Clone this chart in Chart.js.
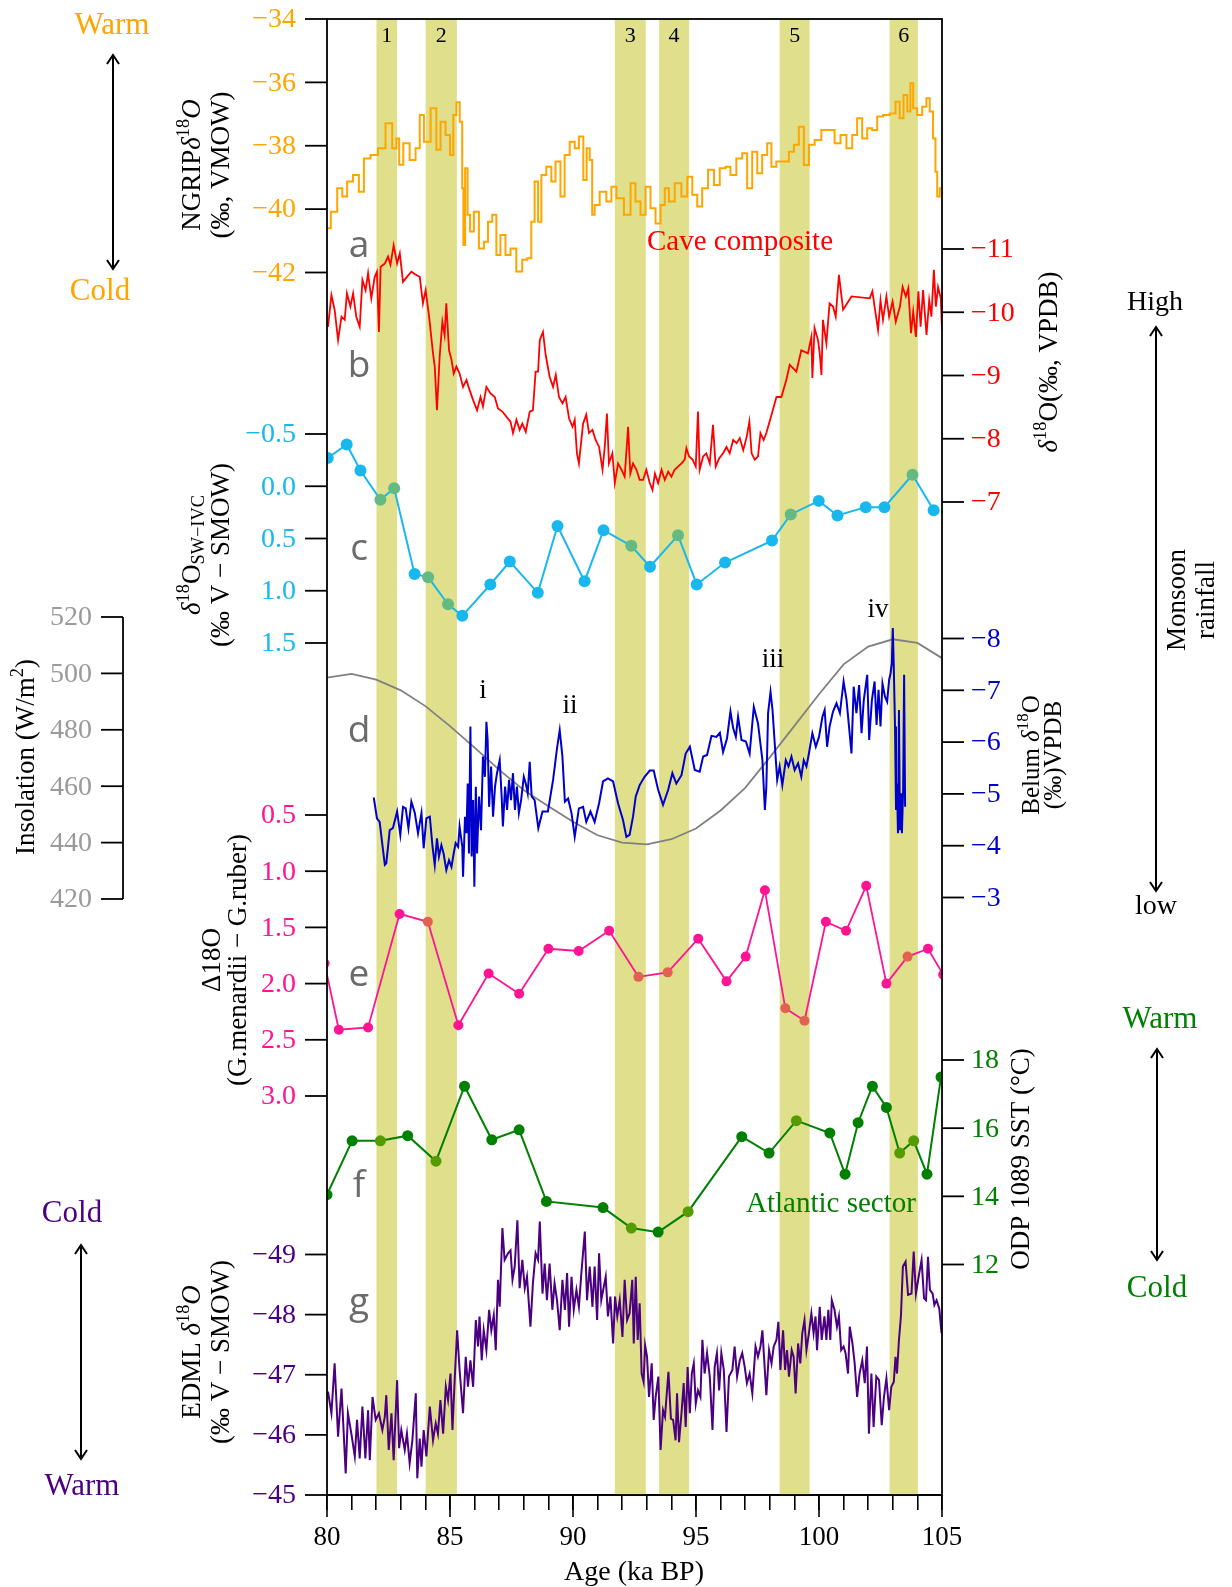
<!DOCTYPE html>
<html><head><meta charset="utf-8">
<script src="https://cdn.jsdelivr.net/npm/chart.js@4/dist/chart.umd.min.js"></script>
<style>html,body{margin:0;padding:0;background:#fff}canvas{display:block}</style>
</head><body>
<canvas id="c" width="1232" height="1587"></canvas>
<script>
// ---------------- DATA ----------------
const ageRange = [80, 105];
const ageTicks = [80, 85, 90, 95, 100, 105];
const bandStart = [82.01, 84.01, 91.7, 93.5, 98.4, 102.87];
const bandEnd   = [82.85, 85.28, 92.96, 94.72, 99.62, 104.02];
const bandLabels = ['1', '2', '3', '4', '5', '6'];

const ngripTicks = [-34, -36, -38, -40, -42];
const caveTicks = [-11, -10, -9, -8, -7];
const swTicks = [-0.5, 0.0, 0.5, 1.0, 1.5];
const insolTicks = [520, 500, 480, 460, 440, 420];
const belumTicks = [-8, -7, -6, -5, -4, -3];
const deltaTicks = [0.5, 1.0, 1.5, 2.0, 2.5, 3.0];
const sstTicks = [18, 16, 14, 12];
const edmlTicks = [-49, -48, -47, -46, -45];

// a: NGRIP d18O
const ngripAge = [80.0,80.31,80.52,80.72,80.92,81.19,81.4,81.6,81.94,82.21,82.55,82.75,82.89,82.98,83.22,83.5,83.7,83.84,84.04,84.38,84.51,84.72,84.92,85.08,85.19,85.33,85.46,85.53,85.56,85.67,85.76,85.87,86.07,86.28,86.48,86.61,86.82,86.95,87.15,87.36,87.56,87.83,88.04,88.24,88.37,88.51,88.65,88.78,89.05,89.19,89.39,89.59,89.73,90.0,90.14,90.34,90.5,90.61,90.75,90.81,90.95,91.22,91.49,91.63,91.9,92.24,92.44,92.64,92.85,93.05,93.25,93.46,93.66,93.8,94.0,94.27,94.54,94.75,94.95,95.15,95.35,95.63,95.83,96.1,96.3,96.5,96.78,96.98,97.18,97.39,97.59,97.79,98.0,98.13,98.4,98.67,98.88,99.08,99.28,99.49,99.69,99.96,100.23,100.5,100.77,100.98,101.25,101.45,101.65,101.86,102.06,102.26,102.47,102.74,103.01,103.21,103.35,103.52,103.66,103.77,103.89,104.09,104.3,104.43,104.57,104.7,104.77,104.84,104.98];
const ngripD18O = [-40.6,-40.08,-39.34,-39.6,-39.13,-38.92,-39.45,-38.4,-38.29,-38.08,-37.29,-38.08,-37.77,-38.6,-37.92,-38.45,-38.08,-37.03,-37.87,-36.82,-38.13,-37.24,-37.66,-38.29,-37.03,-36.63,-37.24,-39.34,-41.13,-38.71,-40.18,-40.71,-40.08,-41.24,-41.03,-40.4,-40.18,-41.45,-40.82,-41.45,-41.24,-41.97,-41.6,-41.55,-40.4,-39.13,-40.4,-38.92,-38.66,-39.13,-38.5,-39.6,-38.29,-37.87,-38.08,-37.71,-39.08,-38.08,-38.45,-40.18,-39.87,-39.45,-39.76,-39.29,-39.66,-40.18,-39.18,-39.76,-40.18,-39.29,-39.97,-40.45,-39.87,-39.34,-39.76,-39.18,-39.6,-38.98,-39.55,-39.92,-39.34,-38.76,-39.24,-38.71,-38.66,-38.92,-38.4,-38.24,-39.34,-38.19,-38.87,-38.29,-37.92,-38.66,-38.5,-38.5,-38.19,-37.97,-37.4,-38.61,-37.97,-37.82,-37.5,-37.5,-37.92,-37.66,-38.08,-37.66,-37.13,-37.77,-37.45,-37.5,-37.08,-37.03,-36.98,-36.61,-37.13,-36.4,-36.92,-36.03,-36.82,-37.03,-36.77,-36.5,-36.92,-37.77,-38.82,-39.6,-39.34];

// b: Cave composite d18O
const caveAge = [80.04,80.18,80.31,80.45,80.59,80.72,80.81,80.95,81.06,81.19,81.33,81.44,81.57,81.67,81.8,81.94,82.03,82.11,82.18,82.35,82.48,82.58,82.71,82.85,82.96,83.09,83.25,83.43,83.63,83.77,83.9,84.01,84.15,84.31,84.38,84.47,84.58,84.69,84.78,84.85,84.96,85.06,85.15,85.26,85.39,85.53,85.67,85.77,85.94,86.1,86.24,86.34,86.48,86.64,86.82,86.95,87.13,87.29,87.46,87.56,87.7,87.83,87.94,88.08,88.24,88.37,88.48,88.58,88.65,88.78,88.89,89.05,89.19,89.3,89.43,89.57,89.7,89.84,89.98,90.07,90.16,90.24,90.41,90.54,90.65,90.79,90.92,91.06,91.2,91.29,91.38,91.46,91.6,91.7,91.83,91.97,92.1,92.24,92.33,92.44,92.58,92.71,92.85,92.98,93.12,93.23,93.33,93.46,93.6,93.73,93.87,94.0,94.13,94.27,94.41,94.54,94.61,94.72,94.86,94.99,95.08,95.15,95.29,95.42,95.56,95.69,95.8,95.94,96.1,96.24,96.37,96.51,96.65,96.78,96.92,97.06,97.17,97.26,97.39,97.52,97.62,97.75,97.86,98.07,98.27,98.47,98.67,98.81,99.08,99.28,99.55,99.69,99.73,99.82,99.96,100.03,100.1,100.16,100.3,100.43,100.57,100.68,100.81,100.98,101.32,102.06,102.17,102.26,102.4,102.5,102.6,102.74,102.85,102.99,103.12,103.29,103.4,103.53,103.63,103.74,103.83,103.94,104.04,104.13,104.23,104.37,104.48,104.57,104.67,104.75,104.84,104.95,105.0];
const caveD18O = [-9.77,-10.27,-10.04,-9.56,-9.93,-9.88,-10.3,-10.09,-10.3,-9.93,-9.77,-10.51,-10.35,-10.62,-10.22,-10.56,-10.64,-9.69,-10.72,-10.77,-10.88,-10.75,-11.06,-10.77,-10.93,-10.48,-10.56,-10.64,-10.59,-10.56,-10.14,-10.35,-9.93,-9.35,-9.14,-8.45,-9.3,-9.85,-9.64,-10.14,-9.4,-9.25,-9.03,-9.14,-9.03,-8.82,-8.93,-8.8,-8.61,-8.45,-8.66,-8.51,-8.82,-8.72,-8.66,-8.48,-8.43,-8.35,-8.27,-8.09,-8.3,-8.14,-8.24,-8.11,-8.43,-8.45,-9.06,-9.06,-9.56,-9.69,-9.32,-8.98,-8.82,-9.01,-8.66,-8.56,-8.66,-8.32,-8.19,-8.3,-7.77,-7.61,-8.24,-8.38,-8.09,-8.14,-7.98,-7.87,-7.51,-7.87,-8.4,-7.61,-7.77,-7.3,-7.61,-7.51,-7.4,-8.19,-7.45,-7.61,-7.51,-7.35,-7.35,-7.51,-7.3,-7.19,-7.45,-7.3,-7.51,-7.35,-7.48,-7.4,-7.51,-7.56,-7.61,-7.67,-7.85,-7.72,-7.67,-7.56,-8.43,-7.51,-7.72,-7.77,-7.61,-8.22,-7.56,-7.69,-7.77,-7.87,-7.77,-7.98,-7.93,-8.01,-7.82,-8.03,-8.27,-7.77,-7.67,-7.72,-8.09,-7.98,-8.09,-8.38,-8.66,-8.66,-8.93,-9.17,-9.06,-9.4,-9.35,-9.61,-8.96,-9.75,-9.56,-9.35,-9.01,-9.88,-9.51,-10.14,-10.09,-9.93,-10.59,-10.04,-10.25,-10.22,-10.33,-10.09,-9.72,-10.19,-9.88,-10.25,-9.93,-10.17,-9.85,-10.09,-10.4,-10.25,-10.38,-9.67,-10.01,-9.61,-10.33,-9.77,-10.35,-9.64,-10.19,-9.93,-10.67,-10.09,-10.4,-10.22,-9.72];

// c: d18O seawater (IVC)
const swAge = [80.03,80.8,81.36,82.17,82.73,83.56,84.11,84.92,85.5,86.64,87.43,88.57,89.37,90.47,91.24,92.37,93.13,94.27,95.03,96.18,98.09,98.85,99.99,100.75,101.9,102.66,103.8,104.66];
const swD18O = [-0.27,-0.40,-0.15,0.13,0.02,0.84,0.87,1.13,1.24,0.94,0.72,1.02,0.38,0.91,0.42,0.57,0.77,0.47,0.94,0.73,0.52,0.27,0.14,0.28,0.20,0.20,-0.11,0.23];

// d: insolation and Belum d18O
const insolAge = [80,81,82,83,84,85,86,87,88,89,90,91,92,93,94,95,96,97,98,99,100,101,102,103,104,105];
const insolWm2 = [498.5,499.8,497.8,494.0,488.4,481.3,473.7,465.8,458.6,452.9,447.4,442.6,440.0,439.4,441.2,445.0,451.4,459.4,470.2,481.4,492.6,503.2,509.5,512.1,510.8,505.4];

const belumAge = [81.9,82.03,82.14,82.35,82.41,82.55,82.68,82.85,82.98,83.09,83.2,83.31,83.43,83.57,83.7,83.84,83.93,84.04,84.18,84.29,84.38,84.47,84.55,84.65,84.74,84.85,84.96,85.06,85.15,85.23,85.33,85.39,85.5,85.53,85.61,85.67,85.72,85.77,85.83,85.88,85.94,85.99,86.05,86.1,86.18,86.26,86.34,86.42,86.48,86.53,86.59,86.67,86.75,86.83,86.91,87.02,87.1,87.15,87.24,87.32,87.4,87.48,87.56,87.64,87.72,87.8,87.89,88.0,88.08,88.16,88.24,88.32,88.44,88.59,88.76,88.98,89.19,89.35,89.46,89.57,89.67,89.8,89.94,90.07,90.24,90.41,90.54,90.71,90.88,91.06,91.22,91.42,91.63,91.83,92.03,92.17,92.3,92.44,92.55,92.71,92.91,93.12,93.28,93.46,93.66,93.87,94.04,94.2,94.41,94.58,94.75,94.95,95.15,95.29,95.45,95.63,95.83,95.97,96.1,96.26,96.4,96.51,96.62,96.71,96.85,97.03,97.18,97.35,97.52,97.7,97.8,97.86,97.93,98.03,98.11,98.21,98.3,98.4,98.51,98.65,98.76,98.88,99.01,99.15,99.28,99.38,99.49,99.59,99.73,99.87,100.0,100.14,100.23,100.33,100.43,100.57,100.71,100.85,101.0,101.12,101.22,101.32,101.41,101.52,101.63,101.73,101.82,101.96,102.04,102.15,102.26,102.34,102.42,102.5,102.58,102.68,102.77,102.85,102.91,102.96,103.0,103.04,103.09,103.13,103.17,103.21,103.25,103.29,103.33,103.37,103.42,103.46,103.5];
const belumD18O = [-4.93,-4.53,-4.46,-3.63,-3.66,-4.3,-4.34,-4.66,-4.21,-4.75,-4.72,-4.34,-4.85,-4.63,-4.24,-4.63,-3.95,-4.53,-4.56,-3.98,-3.63,-4.14,-3.79,-4.01,-3.85,-3.53,-3.72,-3.59,-3.85,-4.05,-3.98,-4.37,-3.98,-3.4,-4.56,-4.24,-5.2,-3.85,-6.3,-3.79,-4.88,-3.21,-5.14,-3.85,-4.95,-4.3,-5.72,-5.33,-6.39,-6.04,-4.75,-5.53,-4.56,-5.14,-5.4,-5.65,-4.95,-4.37,-5.14,-4.69,-5.27,-4.88,-5.4,-4.69,-5.14,-4.63,-4.88,-5.33,-5.2,-5.01,-5.62,-4.95,-4.88,-4.34,-4.66,-4.66,-5.27,-5.88,-6.23,-5.72,-4.85,-4.91,-4.63,-4.17,-4.72,-4.75,-4.46,-4.66,-4.46,-4.82,-5.24,-5.3,-5.24,-4.82,-4.5,-4.17,-4.21,-4.56,-4.95,-5.17,-5.33,-5.45,-5.45,-5.08,-4.79,-5.08,-5.4,-5.2,-5.36,-5.78,-5.91,-5.46,-5.43,-5.72,-5.75,-6.12,-6.1,-6.18,-5.81,-6.07,-6.59,-6.27,-6.1,-6.49,-6.04,-6.01,-5.78,-6.68,-6.36,-5.65,-4.69,-5.14,-6.56,-6.97,-6.62,-5.91,-5.27,-5.53,-5.17,-5.65,-5.53,-5.72,-5.46,-5.59,-5.33,-5.65,-5.53,-5.78,-6.17,-5.91,-6.1,-6.49,-6.62,-5.91,-6.3,-6.59,-6.75,-6.56,-7.17,-6.81,-6.3,-5.78,-7.07,-6.56,-7.1,-6.17,-6.81,-7.3,-6.04,-6.81,-7.17,-6.33,-7.01,-6.3,-7.13,-6.88,-6.78,-7.2,-7.33,-7.52,-8.2,-7.46,-6.3,-4.69,-5.2,-4.24,-6.62,-4.3,-5.01,-4.24,-5.08,-7.3,-4.75];

// e: Delta18O (G.menardii - G.ruber)
const deltaAge = [79.9,80.48,81.67,82.95,84.1,85.34,86.57,87.81,89.0,90.23,91.47,92.66,93.85,95.09,96.24,97.02,97.8,98.63,99.41,100.28,101.1,101.92,102.74,103.6,104.43,105.05];
const deltaD18O = [1.82,2.41,2.39,1.38,1.45,2.37,1.91,2.09,1.69,1.71,1.53,1.94,1.9,1.6,1.98,1.76,1.17,2.22,2.33,1.45,1.53,1.13,2.0,1.76,1.69,1.92];

// f: ODP 1089 SST
const sstAge = [80.0,81.02,82.17,83.28,84.43,85.59,86.7,87.81,88.92,91.22,92.37,93.46,94.68,96.86,97.97,99.08,100.44,101.06,101.59,102.17,102.74,103.28,103.85,104.39,104.96];
const sstC = [14.05,15.63,15.63,15.78,15.03,17.23,15.66,15.95,13.85,13.67,13.07,12.95,13.55,15.75,15.27,16.22,15.86,14.65,16.16,17.23,16.61,15.27,15.63,14.65,17.5];

// g: EDML d18O
const edmlAge = [80.04,80.18,80.31,80.45,80.59,80.76,80.85,80.99,81.13,81.22,81.33,81.44,81.56,81.67,81.74,81.85,81.98,82.11,82.25,82.35,82.41,82.51,82.62,82.71,82.85,82.93,83.02,83.16,83.25,83.36,83.47,83.61,83.67,83.77,83.84,83.93,84.04,84.18,84.31,84.42,84.51,84.61,84.72,84.83,84.92,85.02,85.1,85.19,85.29,85.39,85.53,85.64,85.73,85.83,85.94,86.05,86.14,86.2,86.29,86.37,86.48,86.59,86.68,86.78,86.86,86.95,87.02,87.13,87.22,87.36,87.46,87.54,87.63,87.74,87.83,87.94,88.04,88.13,88.27,88.37,88.48,88.58,88.65,88.76,88.85,88.94,89.05,89.16,89.25,89.35,89.46,89.57,89.67,89.76,89.84,89.94,90.03,90.14,90.24,90.34,90.48,90.57,90.68,90.79,90.88,90.98,91.06,91.15,91.25,91.33,91.42,91.52,91.63,91.71,91.8,91.9,92.01,92.1,92.2,92.3,92.41,92.47,92.55,92.63,92.71,92.79,92.87,92.93,93.01,93.09,93.2,93.28,93.36,93.47,93.56,93.66,93.74,93.88,93.98,94.07,94.17,94.23,94.31,94.41,94.5,94.58,94.66,94.75,94.83,94.91,94.99,95.08,95.18,95.26,95.35,95.45,95.56,95.67,95.76,95.85,95.94,96.03,96.13,96.24,96.34,96.48,96.57,96.67,96.78,96.88,96.98,97.07,97.18,97.29,97.42,97.52,97.62,97.7,97.79,97.86,97.97,98.07,98.16,98.27,98.35,98.43,98.54,98.62,98.7,98.78,98.89,98.97,99.05,99.15,99.24,99.32,99.41,99.49,99.59,99.69,99.78,99.86,99.92,100.03,100.11,100.22,100.3,100.38,100.46,100.52,100.63,100.73,100.81,100.9,101.0,101.08,101.18,101.25,101.36,101.45,101.55,101.65,101.76,101.86,101.95,102.03,102.13,102.22,102.33,102.44,102.55,102.64,102.74,102.85,102.94,103.04,103.11,103.17,103.25,103.33,103.41,103.52,103.62,103.76,103.85,103.94,104.05,104.17,104.27,104.35,104.43,104.51,104.62,104.69,104.78,104.89,104.98];
const edmlD18O = [-46.72,-46.36,-47.19,-45.97,-46.77,-45.36,-46.36,-46.02,-45.64,-46.25,-45.61,-46.47,-45.61,-46.41,-45.58,-46.63,-46.25,-46.36,-46.08,-46.3,-46.66,-45.75,-46.36,-45.58,-46.91,-45.78,-46.08,-45.75,-46.02,-45.53,-45.91,-46.69,-45.28,-45.94,-45.47,-46.08,-45.64,-46.47,-45.91,-46.19,-46.02,-46.58,-46.02,-46.8,-46.58,-47.02,-46.08,-46.91,-47.74,-47.08,-46.36,-47.3,-46.8,-47.24,-46.8,-47.91,-47.47,-47.97,-47.24,-47.74,-47.41,-48.08,-47.74,-47.99,-47.41,-48.58,-48.13,-49.44,-48.91,-49.02,-49.07,-48.58,-48.8,-49.57,-48.44,-48.91,-48.44,-48.63,-47.8,-48.52,-49.02,-48.91,-49.55,-48.35,-48.85,-48.24,-48.85,-48.08,-48.52,-48.24,-47.74,-48.58,-48.08,-48.69,-47.8,-48.63,-48.08,-48.41,-48.13,-48.69,-49.38,-48.24,-48.8,-48.13,-48.8,-47.91,-49.02,-48.24,-48.46,-48.63,-47.97,-48.3,-47.52,-48.3,-47.97,-48.24,-47.63,-48.58,-47.91,-48.02,-48.58,-47.52,-48.63,-47.58,-48.19,-47.02,-46.88,-47.49,-47.3,-46.63,-47.19,-46.25,-46.63,-46.97,-45.75,-46.41,-46.3,-47.05,-46.27,-46.25,-45.91,-46.69,-45.88,-46.36,-46.86,-46.13,-47.13,-46.36,-47.02,-47.19,-46.52,-46.74,-46.63,-47.58,-47.02,-47.36,-46.97,-46.08,-47.13,-47.36,-46.74,-47.36,-47.08,-46.05,-46.97,-47.08,-47.47,-46.97,-47.24,-47.36,-47.13,-46.86,-47.02,-46.69,-47.47,-47.3,-47.47,-47.74,-47.13,-46.66,-47.41,-47.19,-47.47,-47.58,-47.88,-47.08,-47.74,-47.08,-47.41,-46.97,-47.41,-47.3,-46.69,-47.52,-47.19,-47.69,-47.91,-47.41,-47.69,-48.02,-47.69,-47.97,-47.41,-48.13,-47.58,-47.97,-47.58,-48.08,-47.58,-48.24,-48.08,-47.8,-47.97,-47.41,-47.47,-47.36,-47.02,-47.8,-47.52,-47.19,-46.63,-47.02,-47.24,-46.86,-47.47,-46.02,-47.02,-46.13,-46.97,-46.91,-46.16,-46.63,-46.94,-46.41,-46.8,-46.88,-47.3,-47.02,-47.58,-47.97,-48.8,-48.88,-48.33,-48.35,-49.05,-48.35,-48.63,-48.91,-48.27,-48.24,-48.96,-48.41,-48.35,-48.16,-48.24,-48.1,-47.69];

// ---------------- LAYOUT / STYLE ----------------
const W = 1232, H = 1587;
const AREA = {left: 327, right: 942, top: 19, bottom: 1495};
const SERIF = '"Liberation Serif", "DejaVu Serif", serif';
const SANS = '"Open Sans", "DejaVu Sans", sans-serif';
const C = {
  orange: '#ffa500', red: '#ff0000', cyan: '#18b8ef', gray: '#808080', grayLbl: '#9a9a9a',
  blue: '#0000cd', pink: '#ff1493', green: '#008000', purple: '#4b0082', band: 'rgb(224,224,140)'
};

// linear y-scale whose value v1 sits at pixel p1 and v2 at pixel p2 inside the shared plot area
function yScale(v1, p1, v2, p2) {
  const b = (p2 - p1) / (v2 - v1), a = p1 - b * v1;
  if (b < 0) return {type: 'linear', display: false, min: (AREA.bottom - a) / b, max: (AREA.top - a) / b};
  return {type: 'linear', display: false, reverse: true, min: (AREA.top - a) / b, max: (AREA.bottom - a) / b};
}

function pts(xs, ys) { return xs.map((x, i) => ({x: x, y: ys[i]})); }
function inBand(x) { return bandStart.some((s, i) => x >= s && x <= bandEnd[i]); }
function hexRgb(h) { const n = parseInt(h.slice(1), 16); return [(n >> 16) & 255, (n >> 8) & 255, n & 255]; }
function tinted(hex) {
  const c = hexRgb(hex), y = [191, 191, 0];
  return 'rgb(' + c.map((v, i) => Math.round(v * 0.55 + y[i] * 0.45)).join(',') + ')';
}
function markerColor(hex) {
  return ctx => (ctx.raw && inBand(ctx.raw.x)) ? tinted(hex) : hex;
}

const lineBase = {pointRadius: 0, tension: 0, fill: false, pointHoverRadius: 0};

const datasets = [
  Object.assign({}, lineBase, {label: 'NGRIP', data: pts(ngripAge, ngripD18O), yAxisID: 'yN', borderColor: C.orange, borderWidth: 2, stepped: 'middle', order: 3}),
  Object.assign({}, lineBase, {label: 'Cave', data: pts(caveAge, caveD18O), yAxisID: 'yC', borderColor: C.red, borderWidth: 1.8, order: 2}),
  Object.assign({}, lineBase, {label: 'SW', data: pts(swAge, swD18O), yAxisID: 'yS', borderColor: C.cyan, borderWidth: 2,
    pointRadius: 6, pointBorderWidth: 0, pointBackgroundColor: markerColor(C.cyan), order: 1}),
  Object.assign({}, lineBase, {label: 'Insolation', data: pts(insolAge, insolWm2), yAxisID: 'yI', borderColor: C.gray, borderWidth: 1.8, order: 6}),
  Object.assign({}, lineBase, {label: 'Belum', data: pts(belumAge, belumD18O), yAxisID: 'yB', borderColor: C.blue, borderWidth: 2, order: 4}),
  Object.assign({}, lineBase, {label: 'Delta', data: pts(deltaAge, deltaD18O), yAxisID: 'yD', borderColor: C.pink, borderWidth: 1.8,
    pointRadius: 5, pointBorderWidth: 0, pointBackgroundColor: markerColor(C.pink), order: 1}),
  Object.assign({}, lineBase, {label: 'SST', data: pts(sstAge, sstC), yAxisID: 'yT', borderColor: C.green, borderWidth: 2,
    pointRadius: 5.5, pointBorderWidth: 0, pointBackgroundColor: markerColor(C.green), order: 1}),
  Object.assign({}, lineBase, {label: 'EDML', data: pts(edmlAge, edmlD18O), yAxisID: 'yE', borderColor: C.purple, borderWidth: 2, order: 5})
];

// ---------------- TEXT HELPERS ----------------
function rich(ctx, parts, x, y, rot, size, color, align) {
  ctx.save();
  ctx.translate(x, y); ctx.rotate(rot || 0);
  const items = parts.map(p => {
    const s = p.sup || p.sub ? size * 0.68 : size;
    const f = (p.i ? 'italic ' : '') + s + 'px ' + (p.font || SERIF);
    ctx.font = f;
    return {t: p.t, f: f, w: ctx.measureText(p.t).width, dy: p.sup ? -size * 0.33 : (p.sub ? size * 0.22 : 0)};
  });
  const total = items.reduce((a, b) => a + b.w, 0);
  let cx = align === 'left' ? 0 : (align === 'right' ? -total : -total / 2);
  ctx.fillStyle = color; ctx.textBaseline = 'middle'; ctx.textAlign = 'left';
  items.forEach(it => { ctx.font = it.f; ctx.fillText(it.t, cx, it.dy); cx += it.w; });
  ctx.restore();
}
const UP = -Math.PI / 2;
function fmt(v, dec) { const s = dec ? Math.abs(v).toFixed(dec) : String(Math.abs(v)); return (v < 0 ? '\u2212' : '') + s; }

function arrow(ctx, x, y1, y2) {
  ctx.save(); ctx.strokeStyle = '#000'; ctx.lineWidth = 2;
  ctx.beginPath(); ctx.moveTo(x, y1); ctx.lineTo(x, y2); ctx.stroke();
  ctx.beginPath(); ctx.moveTo(x - 6, y1 + 9); ctx.lineTo(x, y1); ctx.lineTo(x + 6, y1 + 9); ctx.stroke();
  ctx.beginPath(); ctx.moveTo(x - 6, y2 - 9); ctx.lineTo(x, y2); ctx.lineTo(x + 6, y2 - 9); ctx.stroke();
  ctx.restore();
}

// ---------------- PLUGINS ----------------
const bandsPlugin = {
  id: 'bands',
  beforeDatasetsDraw(chart) {
    const ctx = chart.ctx, xs = chart.scales.x, a = chart.chartArea;
    ctx.save(); ctx.fillStyle = C.band;
    bandStart.forEach((s, i) => {
      const x1 = xs.getPixelForValue(s), x2 = xs.getPixelForValue(bandEnd[i]);
      ctx.fillRect(x1, a.top, x2 - x1, a.bottom - a.top);
    });
    ctx.restore();
  }
};

const decorPlugin = {
  id: 'decor',
  afterDraw(chart) {
    const ctx = chart.ctx, a = chart.chartArea, s = chart.scales, xs = s.x;
    ctx.save();
    // frame
    ctx.strokeStyle = '#000'; ctx.lineWidth = 1.8;
    ctx.strokeRect(a.left, a.top, a.right - a.left, a.bottom - a.top);

    // longer major ticks on the age axis
    ctx.lineWidth = 1.6;
    ageTicks.forEach(v => { const x = xs.getPixelForValue(v); ctx.beginPath(); ctx.moveTo(x, a.bottom); ctx.lineTo(x, a.bottom + 22); ctx.stroke(); });

    // y ticks
    const tickFont = '28px ' + SERIF;
    function leftTicks(scale, vals, color, dec, x0) {
      const xr = x0 === undefined ? a.left : x0;
      vals.forEach(v => {
        const y = scale.getPixelForValue(v);
        ctx.strokeStyle = '#000'; ctx.lineWidth = 1.8;
        ctx.beginPath(); ctx.moveTo(xr - 22, y); ctx.lineTo(xr, y); ctx.stroke();
        ctx.fillStyle = color; ctx.font = tickFont; ctx.textAlign = 'right'; ctx.textBaseline = 'middle';
        ctx.fillText(fmt(v, dec), xr - 31, y + 1);
      });
    }
    function rightTicks(scale, vals, color, dec) {
      vals.forEach(v => {
        const y = scale.getPixelForValue(v);
        ctx.strokeStyle = '#000'; ctx.lineWidth = 1.8;
        ctx.beginPath(); ctx.moveTo(a.right, y); ctx.lineTo(a.right + 22, y); ctx.stroke();
        ctx.fillStyle = color; ctx.font = tickFont; ctx.textAlign = 'left'; ctx.textBaseline = 'middle';
        ctx.fillText(fmt(v, dec), a.right + 29, y + 1);
      });
    }
    leftTicks(s.yN, ngripTicks, C.orange, 0);
    leftTicks(s.yS, swTicks, C.cyan, 1);
    leftTicks(s.yD, deltaTicks, C.pink, 1);
    leftTicks(s.yE, edmlTicks, C.purple, 0);
    rightTicks(s.yC, caveTicks, C.red, 0);
    rightTicks(s.yB, belumTicks, C.blue, 0);
    rightTicks(s.yT, sstTicks, C.green, 0);
    // detached insolation axis
    const ix = 123;
    ctx.strokeStyle = '#000'; ctx.lineWidth = 1.8;
    ctx.beginPath(); ctx.moveTo(ix, s.yI.getPixelForValue(insolTicks[0])); ctx.lineTo(ix, s.yI.getPixelForValue(insolTicks[insolTicks.length - 1])); ctx.stroke();
    leftTicks(s.yI, insolTicks, C.grayLbl, 0, ix);

    // band numbers
    ctx.fillStyle = '#000'; ctx.font = '22px ' + SERIF; ctx.textAlign = 'center'; ctx.textBaseline = 'middle';
    bandLabels.forEach((t, i) => ctx.fillText(t, xs.getPixelForValue((bandStart[i] + bandEnd[i]) / 2), 36));

    // panel letters
    ctx.fillStyle = '#6b6b6b'; ctx.font = '37px ' + SANS; ctx.textAlign = 'center'; ctx.textBaseline = 'alphabetic';
    [['a', 257], ['b', 377], ['c', 560], ['d', 742], ['e', 986], ['f', 1197], ['g', 1314]].forEach(p => ctx.fillText(p[0], 359, p[1]));

    // roman numerals
    ctx.fillStyle = '#000'; ctx.font = '27px ' + SERIF; ctx.textAlign = 'center'; ctx.textBaseline = 'middle';
    [['i', 483, 691], ['ii', 570, 706], ['iii', 773, 660], ['iv', 878, 610]].forEach(p => ctx.fillText(p[0], p[1], p[2]));

    // in-plot annotations
    ctx.textAlign = 'left'; ctx.textBaseline = 'alphabetic'; ctx.font = '29px ' + SERIF;
    ctx.fillStyle = C.red; ctx.fillText('Cave composite', 647, 250);
    ctx.fillStyle = C.green; ctx.fillText('Atlantic sector', 746, 1212);

    // axis titles (left)
    const T = 27;
    rich(ctx, [{t: 'NGRIP'}, {t: 'δ', i: 1}, {t: '18', sup: 1}, {t: 'O', i: 1}], 193, 165, UP, T, '#000');
    rich(ctx, [{t: '(‰, VMOW)'}], 222, 165, UP, T, '#000');
    rich(ctx, [{t: 'δ', i: 1}, {t: '18', sup: 1}, {t: 'O'}, {t: 'SW\u2212IVC', sub: 1}], 193, 555, UP, T, '#000');
    rich(ctx, [{t: '(‰ V \u2212 SMOW)'}], 222, 555, UP, T, '#000');
    rich(ctx, [{t: 'Insolation (W/m'}, {t: '2', sup: 1}, {t: ')'}], 27, 757, UP, T, '#000');
    rich(ctx, [{t: 'Δ18O'}], 213, 960, UP, T, '#000');
    rich(ctx, [{t: '(G.menardii \u2212 G.ruber)'}], 239, 960, UP, T, '#000');
    rich(ctx, [{t: 'EDML '}, {t: 'δ', i: 1}, {t: '18', sup: 1}, {t: 'O', i: 1}], 193, 1352, UP, T, '#000');
    rich(ctx, [{t: '(‰ V \u2212 SMOW)'}], 222, 1352, UP, T, '#000');
    // axis titles (right)
    rich(ctx, [{t: 'δ', i: 1}, {t: '18', sup: 1}, {t: 'O(‰, VPDB)'}], 1050, 362, UP, T, '#000');
    rich(ctx, [{t: 'Belum '}, {t: 'δ', i: 1}, {t: '18', sup: 1}, {t: 'O'}], 1032, 755, UP, 25, '#000');
    rich(ctx, [{t: '(‰)VPDB'}], 1054, 755, UP, 25, '#000');
    rich(ctx, [{t: 'ODP 1089 SST (°C)'}], 1022, 1159, UP, T, '#000');
    rich(ctx, [{t: 'Monsoon'}], 1178, 600, UP, T, '#000');
    rich(ctx, [{t: 'rainfall'}], 1207, 600, UP, T, '#000');

    // warm / cold indicators
    const big = 31;
    rich(ctx, [{t: 'Warm'}], 112, 26, 0, big, C.orange);
    rich(ctx, [{t: 'Cold'}], 100, 292, 0, big, C.orange);
    arrow(ctx, 113, 55, 269);
    rich(ctx, [{t: 'Cold'}], 72, 1214, 0, big, C.purple);
    rich(ctx, [{t: 'Warm'}], 82, 1487, 0, big, C.purple);
    arrow(ctx, 81, 1245, 1459);
    rich(ctx, [{t: 'High'}], 1155, 303, 0, 28, '#000');
    rich(ctx, [{t: 'low'}], 1156, 907, 0, 28, '#000');
    arrow(ctx, 1156, 327, 891);
    rich(ctx, [{t: 'Warm'}], 1160, 1020, 0, big, C.green);
    rich(ctx, [{t: 'Cold'}], 1157, 1289, 0, big, C.green);
    arrow(ctx, 1157, 1049, 1260);

    // x-axis title
    rich(ctx, [{t: 'Age (ka BP)'}], 634, 1573, 0, 28, '#000');
    ctx.restore();
  }
};

// ---------------- CHART ----------------
new Chart(document.getElementById('c'), {
  type: 'line',
  data: {datasets: datasets},
  options: {
    responsive: false,
    animation: false,
    events: [],
    layout: {padding: {left: AREA.left, right: W - AREA.right, top: AREA.top, bottom: 0}},
    plugins: {legend: {display: false}, tooltip: {enabled: false}},
    scales: {
      x: {
        type: 'linear', position: 'bottom', min: ageRange[0], max: ageRange[1],
        afterFit: sc => { sc.height = H - AREA.bottom; },
        grid: {drawOnChartArea: false, color: '#000', lineWidth: 1.6, tickLength: 15},
        border: {display: true, color: '#000', width: 1.8},
        ticks: {stepSize: 1, autoSkip: false, maxRotation: 0, minRotation: 0, color: '#000', padding: 12,
          font: {family: SERIF, size: 27}, callback: v => (v % 5 === 0 ? String(v) : '')}
      },
      yN: yScale(-34, 19, -42, 272.5),
      yC: yScale(-11, 249, -7, 502),
      yS: yScale(-0.5, 434, 1.5, 643),
      yI: yScale(520, 617, 420, 899),
      yB: yScale(-8, 638.5, -3, 897.5),
      yD: yScale(0.5, 815, 3.0, 1096),
      yT: yScale(18, 1060, 12, 1264.5),
      yE: yScale(-49, 1254.5, -45, 1495)
    }
  },
  plugins: [bandsPlugin, decorPlugin]
});
</script>
</body></html>
